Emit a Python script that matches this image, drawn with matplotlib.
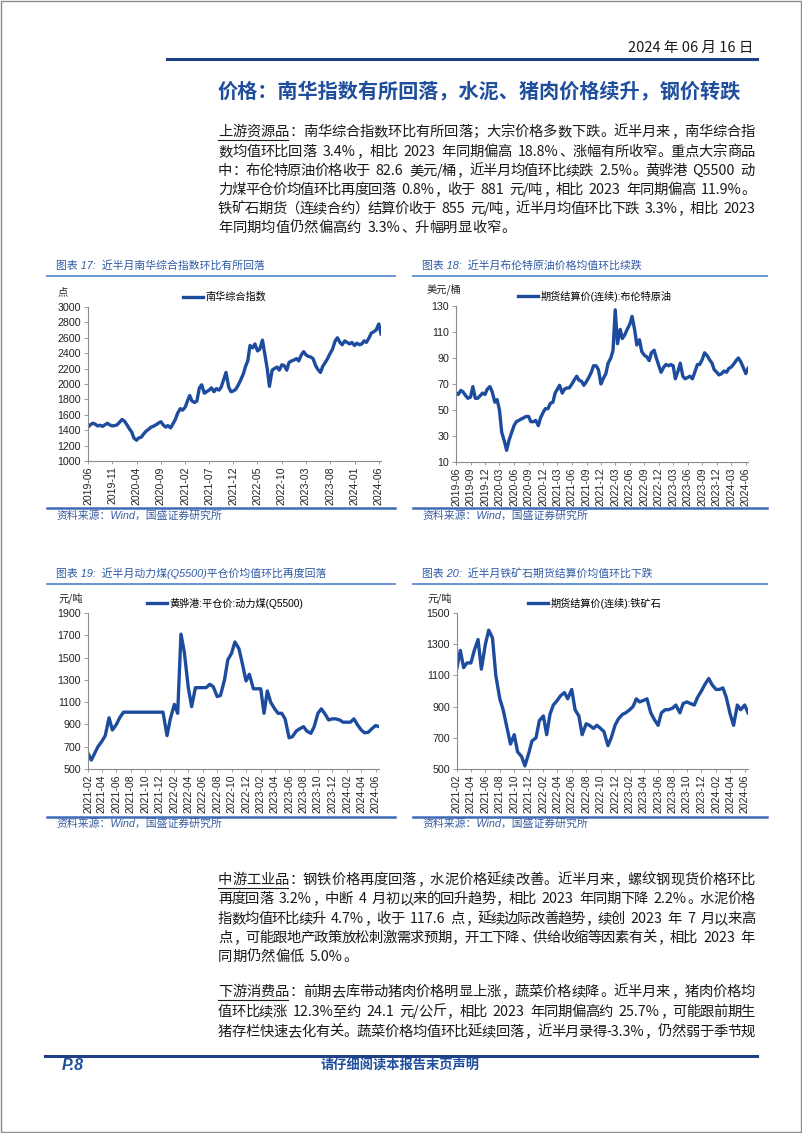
import re
import matplotlib
matplotlib.use('Agg')
import matplotlib.pyplot as plt
import pandas as pd
from matplotlib.lines import Line2D
from matplotlib.patches import Rectangle
from matplotlib.font_manager import FontProperties

CJK = ['Noto Sans CJK SC', 'DejaVu Sans']
plt.rcParams['font.family'] = ['Liberation Sans', 'Noto Sans CJK SC']

# ---- data (semi-monthly) ----
nanhua_vals = [1440, 1470, 1490, 1480, 1455, 1465, 1450, 1470, 1490, 1470, 1455, 1460, 1470, 1500,
               1540, 1520, 1470, 1420, 1380, 1300, 1270, 1300, 1310, 1350, 1390, 1410, 1440, 1450, 1470, 1490, 1510, 1470, 1440, 1460, 1430, 1480, 1540, 1620,
               1680, 1660, 1700, 1780, 1850, 1780, 1760, 1780, 1950, 1990, 1880, 1900, 1920, 1950, 1900, 1940, 1920, 1960, 2060, 2150, 1960, 1900, 1910, 1930,
               1990, 2050, 2130, 2230, 2300, 2500, 2470, 2520, 2430, 2450, 2570, 2400, 2200, 1970, 2180, 2200, 2220, 2180, 2250, 2240, 2180, 2280, 2300, 2310,
               2330, 2300, 2380, 2420, 2380, 2360, 2350, 2330, 2240, 2190, 2150, 2230, 2280, 2330, 2400, 2450, 2560, 2600, 2540, 2510, 2560, 2540, 2520, 2540,
               2500, 2530, 2510, 2520, 2560, 2540, 2600, 2660, 2680, 2700, 2780, 2650]
brent_vals = [63, 62, 65, 64, 61, 59, 60, 68, 59, 59, 61, 63, 62, 66,
              68, 64, 56, 58, 50, 33, 26, 19, 27, 32, 38, 41, 42, 43, 44, 45, 45, 41, 41, 42, 38, 44, 48, 51,
              51, 55, 56, 63, 66, 69, 63, 66, 67, 67, 70, 73, 76, 73, 72, 69, 72, 75, 79, 84, 84, 81, 70, 74,
              78, 86, 90, 96, 127, 101, 112, 105, 108, 112, 116, 122, 112, 100, 104, 95, 92, 91, 88, 94, 96, 90, 84, 79,
              83, 85, 84, 85, 84, 74, 80, 86, 76, 74, 75, 76, 74, 79, 85, 85, 89, 94, 92, 89, 86, 81, 79, 77,
              78, 80, 79, 82, 83, 85, 88, 90, 87, 83, 78, 82]
coal_vals = [640, 580, 640, 700, 750, 800, 960, 850, 900, 960, 1010, 1010, 1010, 1010, 1010, 1010, 1010, 1010, 1010, 1010, 1010, 1010,
             800, 950, 1080, 1000, 1710, 1550, 1230, 1060, 1230, 1230, 1230, 1230, 1260, 1240, 1150, 1160, 1300, 1480, 1540, 1640, 1580, 1450, 1290, 1350,
             1220, 1220, 1220, 1000, 1200, 1100, 1040, 1000, 1000, 950, 780, 790, 840, 860, 880, 840, 820, 880, 1000, 1040, 990, 940, 950, 950,
             940, 920, 920, 920, 950, 900, 850, 825, 830, 860, 890, 880]
ore_vals = [1150, 1260, 1150, 1180, 1180, 1260, 1330, 1140, 1300, 1390, 1340, 1100, 950, 880, 760, 660, 720, 610, 580, 520, 600, 680,
            700, 810, 840, 720, 850, 910, 940, 970, 990, 950, 1010, 880, 840, 720, 790, 780, 760, 780, 760, 740, 650, 700, 780, 820,
            850, 860, 880, 900, 950, 930, 940, 950, 860, 820, 780, 860, 880, 880, 890, 910, 860, 920, 930, 920, 910, 960, 1000, 1040,
            1080, 1040, 1010, 1010, 1020, 960, 850, 780, 910, 880, 910, 860]

nanhua_dates = pd.date_range('2019-06-01', periods=len(nanhua_vals), freq='SMS')
brent_dates = pd.date_range('2019-06-01', periods=len(brent_vals), freq='SMS')
coal_dates = pd.date_range('2021-02-01', periods=len(coal_vals), freq='SMS')
ore_dates = pd.date_range('2021-02-01', periods=len(ore_vals), freq='SMS')

nanhua_ticks = ['2019-06', '2019-11', '2020-04', '2020-09', '2021-02', '2021-07', '2021-12',
                '2022-05', '2022-10', '2023-03', '2023-08', '2024-01', '2024-06']
brent_ticks = ['2019-06', '2019-09', '2019-12', '2020-03', '2020-06', '2020-09', '2020-12',
               '2021-03', '2021-06', '2021-09', '2021-12', '2022-03', '2022-06', '2022-09',
               '2022-12', '2023-03', '2023-06', '2023-09', '2023-12', '2024-03', '2024-06']
bimonth_ticks = ['2021-02', '2021-04', '2021-06', '2021-08', '2021-10', '2021-12', '2022-02',
                 '2022-04', '2022-06', '2022-08', '2022-10', '2022-12', '2023-02', '2023-04',
                 '2023-06', '2023-08', '2023-10', '2023-12', '2024-02', '2024-04', '2024-06']

LINE = '#1D4C9E'
BLUE = '#1F4E9C'
TXT = '#1a1a1a'

fig = plt.figure(figsize=(8.02, 11.33), dpi=100)
renderer = fig.canvas.get_renderer()


def fx(x):
    return x / 802


def fy(y):
    return 1 - y / 1133


def hline(x0, x1, y, color, lw):
    fig.add_artist(Line2D([fx(x0), fx(x1)], [fy(y), fy(y)], transform=fig.transFigure, color=color, lw=lw))


# ---- page header ----
fig.add_artist(Rectangle((0.001, 0.001), 0.998, 0.998, transform=fig.transFigure, fill=False, ec='#8a8a8a', lw=1))
fig.text(fx(753), fy(48), '2024 年 06 月 16 日', family=CJK, fontsize=10.5, ha='right', va='center', color=TXT)
hline(167, 757, 59, '#1F3F86', 2.2)
fig.text(fx(218), fy(92), '价格：南华指数有所回落，水泥、猪肉价格续升，钢价转跌', family=CJK,
         fontsize=14.5, fontweight='bold', ha='left', va='center', color=BLUE)

BODY_FS = 10.3
body_fp = FontProperties(family=CJK, size=BODY_FS)
EM = BODY_FS * 100 / 72
LEFT_PUNCT = '，。、：；）'


def body_line(txt, y, justify=True, ul=0, x0=218, x1=755):
    parts = re.findall(r'[A-Za-z0-9.%/\-]+|\s+|.', txt)
    toks, spaced, sp = [], [], False
    for p in parts:
        if p.isspace():
            sp = True
            continue
        toks.append(p)
        spaced.append(sp)
        sp = False
    widths = []
    for t in toks:
        if t.isascii():
            widths.append(renderer.get_text_width_height_descent(t, body_fp, ismath=False)[0])
        else:
            widths.append(EM)
    spw = 0.22 * EM
    natural = sum(widths) + 2 * spw * sum(spaced)
    extra = (x1 - x0 - natural) / (len(toks) - 1) if justify else 0
    x = x0
    ul_end = x0
    for i, (t, w) in enumerate(zip(toks, widths)):
        if i > 0:
            x += extra + (2 * spw if spaced[i] else 0)
        if t.isascii():
            px, ha = x, 'left'
        elif t in LEFT_PUNCT:
            px, ha = x + 0.06 * EM, 'left'
        elif t == '（':
            px, ha = x + 0.94 * EM, 'right'
        else:
            px, ha = x + 0.5 * EM, 'center'
        fig.text(fx(px), fy(y), t, fontproperties=body_fp, ha=ha, va='center', color=TXT)
        x += w
        if i == ul - 1:
            ul_end = x
    if ul:
        hline(x0, ul_end - 0.04 * EM, y + 0.56 * EM, TXT, 0.8)


para1 = ['上游资源品：南华综合指数环比有所回落；大宗价格多数下跌。近半月来，南华综合指',
         '数均值环比回落 3.4%，相比 2023 年同期偏高 18.8%、涨幅有所收窄。重点大宗商品',
         '中：布伦特原油价格收于 82.6 美元/桶，近半月均值环比续跌 2.5%。黄骅港 Q5500 动',
         '力煤平仓价均值环比再度回落 0.8%，收于 881 元/吨，相比 2023 年同期偏高 11.9%。',
         '铁矿石期货（连续合约）结算价收于 855 元/吨，近半月均值环比下跌 3.3%，相比 2023',
         '年同期均值仍然偏高约 3.3%、升幅明显收窄。']
para2 = ['中游工业品：钢铁价格再度回落，水泥价格延续改善。近半月来，螺纹钢现货价格环比',
         '再度回落 3.2%，中断 4 月初以来的回升趋势，相比 2023 年同期下降 2.2%。水泥价格',
         '指数均值环比续升 4.7%，收于 117.6 点，延续边际改善趋势，续创 2023 年 7 月以来高',
         '点，可能跟地产政策放松刺激需求预期，开工下降、供给收缩等因素有关，相比 2023 年',
         '同期仍然偏低 5.0%。']
para3 = ['下游消费品：前期去库带动猪肉价格明显上涨，蔬菜价格续降。近半月来，猪肉价格均',
         '值环比续涨 12.3%至约 24.1 元/公斤，相比 2023 年同期偏高约 25.7%，可能跟前期生',
         '猪存栏快速去化有关。蔬菜价格均值环比延续回落，近半月录得-3.3%，仍然弱于季节规']

for lines, ys, last_free in [(para1, [132, 152, 171, 190, 209, 228], True),
                             (para2, [880, 899, 919, 938, 957], True),
                             (para3, [992, 1012, 1032], False)]:
    for i, (s, y) in enumerate(zip(lines, ys)):
        is_last = last_free and i == len(lines) - 1
        body_line(s, y, justify=not is_last, ul=5 if i == 0 else 0)


# ---- charts ----
def chart(box, dates, vals, ylim, ystep, ticks, legend_label, legend_xy):
    l, r, t, b = box
    ax = fig.add_axes([fx(l), fy(b), (r - l) / 802, (b - t) / 1133])
    ax.plot(dates, vals, color=LINE, lw=2.4, label=legend_label, solid_joinstyle='round')
    ax.set_ylim(*ylim)
    ax.set_yticks(range(ylim[0], ylim[1] + 1, ystep))
    ax.set_xlim(dates[0], dates[-1])
    ax.set_xticks(pd.to_datetime([tk + '-01' for tk in ticks]))
    ax.set_xticklabels(ticks, rotation=90)
    for side in ['top', 'right']:
        ax.spines[side].set_visible(False)
    for side in ['left', 'bottom']:
        ax.spines[side].set_color('#8c8c8c')
        ax.spines[side].set_linewidth(0.8)
    ax.tick_params(axis='y', labelsize=7.7, length=3, width=0.6, color='#8c8c8c', pad=2, labelcolor='#222')
    ax.tick_params(axis='x', labelsize=7.6, length=2, width=0.6, color='#8c8c8c', pad=2, labelcolor='#222')
    ax.legend(loc='center left', bbox_to_anchor=(fx(legend_xy[0]), fy(legend_xy[1])),
              bbox_transform=fig.transFigure, frameon=False,
              prop=FontProperties(family=['Liberation Sans', 'Noto Sans CJK SC'], size=7.3),
              handlelength=2.0, handletextpad=0.2, borderpad=0, borderaxespad=0)
    return ax


chart((88, 381, 307, 461), nanhua_dates, nanhua_vals, (1000, 3000), 200, nanhua_ticks, '南华综合指数', (183, 297))
chart((456, 748, 306, 462), brent_dates, brent_vals, (10, 130), 20, brent_ticks, '期货结算价(连续):布伦特原油', (518, 296))
chart((88, 379, 613, 769), coal_dates, coal_vals, (500, 1900), 200, bimonth_ticks, '黄骅港:平仓价:动力煤(Q5500)', (147, 603))
chart((457, 748, 613, 769), ore_dates, ore_vals, (500, 1500), 200, bimonth_ticks, '期货结算价(连续):铁矿石', (528, 603))

titles = [(56, 265, '图表 17:  近半月南华综合指数环比有所回落'),
          (422, 265, '图表 18:  近半月布伦特原油价格均值环比续跌'),
          (56, 573, '图表 19:  近半月动力煤(Q5500)平仓价均值环比再度回落'),
          (422, 573, '图表 20:  近半月铁矿石期货结算价均值环比下跌')]
for x, y, s in titles:
    fig.text(fx(x), fy(y), s, family=['Liberation Sans', 'Noto Sans CJK SC'], fontsize=7.8, style='italic',
             color='#2E5AA6', ha='left', va='center')

units = [(58, 292, '点'), (427, 289, '美元/桶'), (58, 598, '元/吨'), (427, 598, '元/吨')]
for x, y, s in units:
    fig.text(fx(x), fy(y), s, family=CJK, fontsize=7.4, color='#222', ha='left', va='center')

for y_top, y_bot, y_src in [(276, 508, 516), (584, 817, 824)]:
    for x0, x1, xs in [(47, 395, 56), (413, 767, 422)]:
        hline(x0, x1, y_top, '#5B8BD0', 1.3)
        hline(x0, x1, y_bot, '#3E6BB8', 1.8)
        fig.text(fx(xs), fy(y_src), '资料来源：Wind，国盛证券研究所', family=['Liberation Sans', 'Noto Sans CJK SC'],
                 fontsize=7.8, style='italic', color='#3A5DA0', ha='left', va='center')

# ---- footer ----
hline(45, 757, 1056, '#1F3F86', 2.2)
fig.text(fx(62), fy(1066), 'P.8', family='Liberation Sans', fontsize=11.5, fontweight='bold', style='italic',
         color='#1F4E9C', ha='left', va='center')
fig.text(fx(400), fy(1066), '请仔细阅读本报告末页声明', family=CJK, fontsize=9.5, fontweight='bold',
         color='#1F4E9C', ha='center', va='center')

fig.savefig('out.png', dpi=100)
